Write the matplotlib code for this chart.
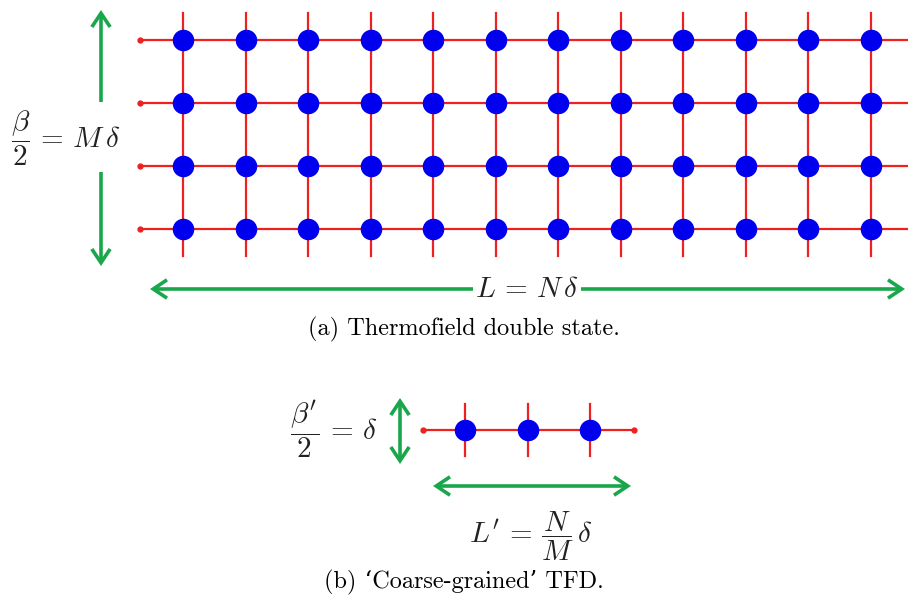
import matplotlib

matplotlib.use("Agg")
import matplotlib.pyplot as plt
from matplotlib.patches import FancyArrowPatch

plt.rcParams["mathtext.fontset"] = "cm"

# lattice of the thermofield double state: N sites x M time slices
cols_a = list(range(12))
rows_a = list(range(4))
# coarse-grained version: one time slice
cols_b = list(range(3))

caption_a = "(a) Thermofield double state."
caption_b = "(b) \u2018Coarse-grained\u2019 TFD."
label_beta = r"$\dfrac{\beta}{2}\,=\,M\,\delta$"
label_L = r"$L\,=\,N\,\delta$"
label_beta_b = r"$\dfrac{\beta'}{2}\,=\,\delta$"
label_L_b = r"$L'\,=\,\dfrac{N}{M}\,\delta$"

RED = "#ee2020"
BLUE = "#0000ee"
GREEN = "#1aa64a"
INK = "#222222"
CAP_FONT = ["cmr10", "DejaVu Serif"]

fig = plt.figure(figsize=(9.08, 6.07), dpi=100)
ax = fig.add_axes([0, 0, 1, 1])
ax.set_xlim(0, 908)
ax.set_ylim(607, 0)
ax.axis("off")

step = 62.5


def arrow(x0, y0, x1, y1, style="<->"):
    a = FancyArrowPatch((x0, y0), (x1, y1), arrowstyle=f"{style},head_length=0.45,head_width=0.3",
                        mutation_scale=22, color=GREEN, lw=2.6, shrinkA=0, shrinkB=0,
                        joinstyle="miter", capstyle="butt")
    ax.add_patch(a)


# ---- (a) full lattice
xa0, ya0, rstep = 183, 40, 63
xs = [xa0 + c * step for c in cols_a]
ys = [ya0 + r * rstep for r in rows_a]
for x in xs:
    ax.plot([x, x], [ys[0] - 27, ys[-1] + 27], color=RED, lw=1.6, zorder=1)
for y in ys:
    ax.plot([xs[0] - 43, 910], [y, y], color=RED, lw=1.6, zorder=1)
    ax.plot([xs[0] - 43], [y], "o", color=RED, ms=3.5, zorder=2)
for y in ys:
    ax.plot(xs, [y] * len(xs), "o", color=BLUE, ms=14.5, zorder=3, mec=BLUE)

arrow(101, 102, 101, 10, "->")
arrow(101, 172, 101, 266, "->")
ax.text(66, 138, label_beta, fontsize=21, ha="center", va="center", color=INK)

arrow(150, 289, 905, 289)
ax.text(527, 289, label_L, fontsize=21, ha="center", va="center", color=INK,
        bbox=dict(facecolor="white", edgecolor="none", pad=1.0))
ax.text(464, 329, caption_a, fontsize=17.5, ha="center", va="center", family=CAP_FONT)

# ---- (b) coarse-grained
xb0, yb = 465, 430
xsb = [xb0 + c * step for c in cols_b]
for x in xsb:
    ax.plot([x, x], [yb - 26, yb + 26], color=RED, lw=1.6, zorder=1)
ax.plot([xsb[0] - 42, xsb[-1] + 44], [yb, yb], color=RED, lw=1.6, zorder=1)
ax.plot([xsb[0] - 42, xsb[-1] + 44], [yb, yb], "o", color=RED, ms=3.5, zorder=2)
ax.plot(xsb, [yb] * len(xsb), "o", color=BLUE, ms=14.5, zorder=3, mec=BLUE)

arrow(400, 398, 400, 464)
ax.text(334, 430, label_beta_b, fontsize=21, ha="center", va="center", color=INK)
arrow(433, 486, 631, 486)
ax.text(531, 536, label_L_b, fontsize=21, ha="center", va="center", color=INK)
ax.text(464, 582, caption_b, fontsize=17.5, ha="center", va="center", family=CAP_FONT)

fig.savefig("out.png", dpi=100)
